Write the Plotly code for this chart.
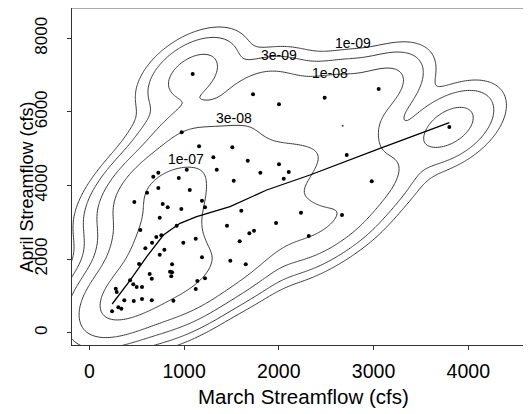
import numpy as np
import plotly.graph_objects as go

# March / April streamflow (cfs)
march = [975, 1158, 1509, 1309, 1672, 1345, 1028, 728, 675, 944, 1805, 1524, 728, 1060, 609,
         475, 1189, 775, 827, 971, 1221, 743, 1604, 922, 1453, 538, 1738, 1689, 1971, 760,
         707, 662, 591, 992, 1123, 1587, 792, 743, 1189, 1488, 1651, 525, 873, 852, 873,
         865, 637, 659, 1221, 1140, 430, 464, 500, 556, 1123, 279, 289, 369, 469, 556,
         659, 887, 306, 338, 240, 2002, 2105, 2052, 2234, 2316, 1091, 1728, 2484, 2002, 3054,
         3800, 2717, 2981, 2667]
april = [5446, 5065, 5038, 4766, 4674, 4429, 4429, 4348, 4239, 4204, 4348, 4130, 3932, 3878, 3804,
         3552, 3587, 3497, 3408, 3361, 3408, 3125, 3315, 2908, 2908, 2791, 2772, 2701, 2981, 2647,
         2601, 2446, 2293, 2446, 2554, 2484, 2255, 2120, 2049, 1957, 1859, 1867, 1859, 1658, 1641,
         1533, 1595, 1467, 1478, 1405, 1424, 1315, 1242, 1242, 1188, 1196, 1106, 880, 861, 916,
         880, 870, 690, 652, 582, 4576, 4367, 4185, 3261, 2628, 7030, 6478, 6386, 6207, 6622,
         5590, 4829, 4114, 3198]
# faint extra point
small_x = [2674]
small_y = [5625]

# smooth curve through the cloud
fit_x = [241, 430, 606, 782, 957, 1133, 1485, 1872, 2329, 3068, 3800]
fit_y = [780, 1424, 2065, 2655, 2973, 3152, 3424, 3878, 4285, 5011, 5707]

levels = [1e-9, 3e-9, 1e-8, 3e-8, 1e-7]
level_labels = ["1e-09", "3e-09", "1e-08", "3e-08", "1e-07"]
label_x = [2783, 2002, 2540, 1527, 1021]
label_y = [7870, 7546, 7049, 5834, 4712]

x_ticks = [0, 1000, 2000, 3000, 4000]
y_ticks = [0, 2000, 4000, 6000, 8000]

# bivariate normal kernel density estimate (kernel tilted along the data)
hx, hy = 255.0, 540.0
px = np.array(march + small_x, float)
py = np.array(april + small_y, float)
rho = 0.75 * np.corrcoef(px, py)[0, 1]
gx = np.linspace(-300, 4800, 241)
gy = np.linspace(-600, 9200, 241)
GX, GY = np.meshgrid(gx, gy)
dens = np.zeros_like(GX)
for a, b in zip(px, py):
    u = (GX - a) / hx
    v = (GY - b) / hy
    dens += np.exp(-0.5 * (u * u - 2 * rho * u * v + v * v) / (1 - rho * rho))
dens /= (len(px) * 2 * np.pi * hx * hy * np.sqrt(1 - rho * rho))

FONT = "Liberation Sans, Arial, Helvetica, sans-serif"

fig = go.Figure()
for L in levels:
    fig.add_trace(go.Contour(
        x=gx, y=gy, z=dens, autocontour=False,
        contours=dict(start=L, end=L, size=L, coloring="lines", showlabels=False),
        colorscale=[[0, "#222"], [1, "#222"]], showscale=False,
        line=dict(width=0.9), hoverinfo="skip"))

fig.add_trace(go.Scatter(x=fit_x, y=fit_y, mode="lines",
                         line=dict(color="black", width=1.3), hoverinfo="skip"))
fig.add_trace(go.Scatter(x=march, y=april, mode="markers",
                         marker=dict(color="black", size=4), hoverinfo="skip"))
fig.add_trace(go.Scatter(x=small_x, y=small_y, mode="markers",
                         marker=dict(color="#444", size=2), hoverinfo="skip"))

for t, xx, yy in zip(level_labels, label_x, label_y):
    fig.add_annotation(x=xx, y=yy, text=t, showarrow=False,
                       font=dict(size=14, color="black", family=FONT))

# axis titles
fig.add_annotation(xref="paper", yref="paper", x=0.504, y=0, yshift=-51,
                   xanchor="center", yanchor="middle", showarrow=False,
                   text="March Streamflow (cfs)", font=dict(size=20.5, family=FONT, color="black"))
fig.add_annotation(xref="paper", yref="paper", x=0, y=0.467, xshift=-45,
                   xanchor="center", yanchor="middle", showarrow=False, textangle=-90,
                   text="April Streamflow (cfs)", font=dict(size=18, family=FONT, color="black"))

fig.add_shape(type="line", xref="paper", yref="paper", x0=0, x1=1, y0=1, y1=1,
              line=dict(color="#555", width=1))

fig.update_layout(
    width=523, height=406,
    margin=dict(l=64, r=0, t=0, b=69),
    paper_bgcolor="white", plot_bgcolor="white",
    showlegend=False,
    font=dict(family=FONT, color="black"),
    xaxis=dict(range=[-183, 4662], tickvals=x_ticks, automargin=False,
               showgrid=False, zeroline=False, showline=True, linecolor="#333", linewidth=1,
               ticks="outside", ticklen=4, tickcolor="#333", ticklabelstandoff=5,
               tickfont=dict(size=19.5)),
    yaxis=dict(range=[-334, 8823], tickvals=y_ticks, automargin=False,
               showgrid=False, zeroline=False, showline=True, linecolor="#333", linewidth=1,
               ticks="outside", ticklen=4, tickcolor="#333", tickangle=-90, ticklabelstandoff=13,
               tickfont=dict(size=17)),
)
fig.write_html("out.html")
